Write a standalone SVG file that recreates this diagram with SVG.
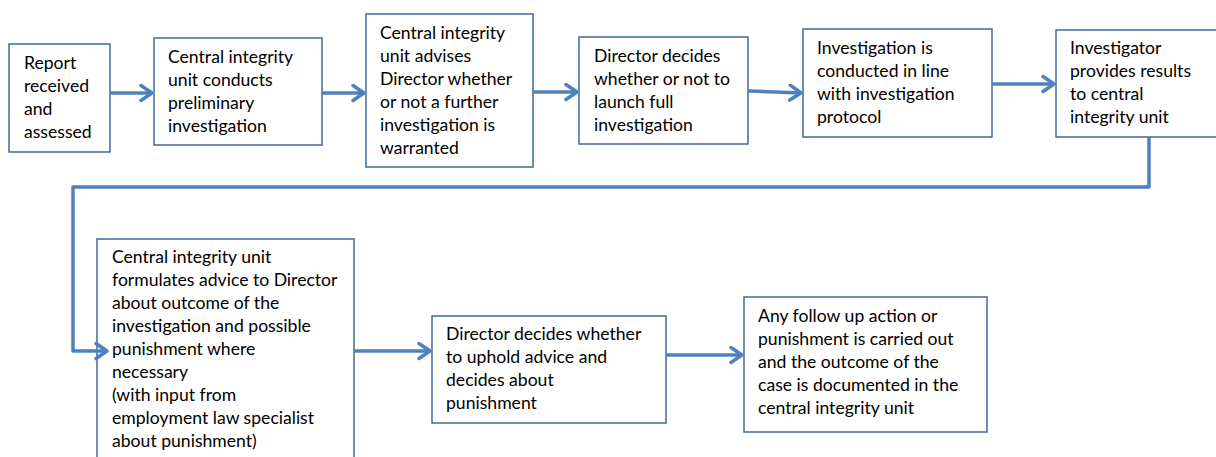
<svg xmlns="http://www.w3.org/2000/svg" width="1216" height="457" viewBox="0 0 1216 457">
<style>
.box{fill:#fff;stroke:#41689C;stroke-width:1.5}
.t{font-family:Lato,"Liberation Sans",sans-serif;font-size:17.6px;fill:#000}
.c{fill:none;stroke:#4F81BD;stroke-width:3.5;stroke-linejoin:round}
</style>
<defs>
<marker id="ah" markerWidth="16" markerHeight="20" refX="13" refY="9" orient="auto" markerUnits="userSpaceOnUse">
<path d="M2,1.5 L13,9 L2,16.5" fill="none" stroke="#4F81BD" stroke-width="3.5" stroke-linecap="round" stroke-linejoin="round"/>
</marker>
</defs>
<rect width="1216" height="457" fill="#fff"/>
<g id="n1"><rect class="box" x="9" y="44" width="101" height="108"/>
<text class="t" x="24"><tspan x="24" y="69">Report</tspan><tspan x="24" y="92">received</tspan><tspan x="24" y="115">and</tspan><tspan x="24" y="138">assessed</tspan></text></g>
<g id="n2"><rect class="box" x="154" y="38" width="168" height="107"/>
<text class="t"><tspan x="168" y="63">Central integrity</tspan><tspan x="168" y="86">unit conducts</tspan><tspan x="168" y="109">preliminary</tspan><tspan x="168" y="132">investigation</tspan></text></g>
<g id="n3"><rect class="box" x="366" y="14" width="167" height="153"/>
<text class="t"><tspan x="380" y="39">Central integrity</tspan><tspan x="380" y="62">unit advises</tspan><tspan x="380" y="85">Director whether</tspan><tspan x="380" y="108">or not a further</tspan><tspan x="380" y="131">investigation is</tspan><tspan x="380" y="154">warranted</tspan></text></g>
<g id="n4"><rect class="box" x="579" y="37" width="169" height="107"/>
<text class="t"><tspan x="594" y="62">Director decides</tspan><tspan x="594" y="85">whether or not to</tspan><tspan x="594" y="108">launch full</tspan><tspan x="594" y="131">investigation</tspan></text></g>
<g id="n5"><rect class="box" x="803" y="29" width="189" height="108"/>
<text class="t"><tspan x="817" y="54">Investigation is</tspan><tspan x="817" y="77">conducted in line</tspan><tspan x="817" y="100">with investigation</tspan><tspan x="817" y="123">protocol</tspan></text></g>
<g id="n6"><rect class="box" x="1056" y="30" width="170" height="107"/>
<text class="t"><tspan x="1070" y="54">Investigator</tspan><tspan x="1070" y="77">provides results</tspan><tspan x="1070" y="100">to central</tspan><tspan x="1070" y="123">integrity unit</tspan></text></g>
<g id="n7"><rect class="box" x="97" y="239" width="257" height="240"/>
<text class="t"><tspan x="112" y="263">Central integrity unit</tspan><tspan x="112" y="286">formulates advice to Director</tspan><tspan x="112" y="309">about outcome of the</tspan><tspan x="112" y="332">investigation and possible</tspan><tspan x="112" y="355">punishment where</tspan><tspan x="112" y="378">necessary</tspan><tspan x="112" y="401">(with input from</tspan><tspan x="112" y="424">employment law specialist</tspan><tspan x="112" y="447">about punishment)</tspan></text></g>
<g id="n8"><rect class="box" x="432" y="316" width="234" height="107"/>
<text class="t"><tspan x="446" y="340">Director decides whether</tspan><tspan x="446" y="363">to uphold advice and</tspan><tspan x="446" y="386">decides about</tspan><tspan x="446" y="409">punishment</tspan></text></g>
<g id="n9"><rect class="box" x="744" y="297" width="243" height="135"/>
<text class="t"><tspan x="758" y="322">Any follow up action or</tspan><tspan x="758" y="345">punishment is carried out</tspan><tspan x="758" y="368">and the outcome of the</tspan><tspan x="758" y="391">case is documented in the</tspan><tspan x="758" y="414">central integrity unit</tspan></text></g>
<g id="connectors">
<line class="c" x1="110" y1="93" x2="152" y2="93" marker-end="url(#ah)"/>
<line class="c" x1="322" y1="93" x2="364" y2="93" marker-end="url(#ah)"/>
<line class="c" x1="533" y1="92" x2="577" y2="92" marker-end="url(#ah)"/>
<line class="c" x1="748" y1="91" x2="801" y2="93" marker-end="url(#ah)"/>
<line class="c" x1="992" y1="84" x2="1054" y2="84" marker-end="url(#ah)"/>
<polyline class="c" points="1149,137 1149,187 73,187 73,351 107,351" marker-end="url(#ah)"/>
<line class="c" x1="354" y1="351" x2="430" y2="351" marker-end="url(#ah)"/>
<line class="c" x1="666" y1="355" x2="742" y2="355" marker-end="url(#ah)"/>
</g>
</svg>
